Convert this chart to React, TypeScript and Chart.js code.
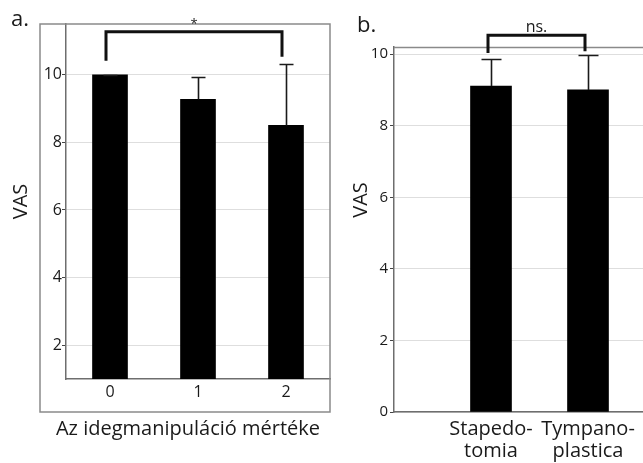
import React, { useEffect, useRef } from 'react';
import { Chart, registerables } from 'chart.js';

Chart.register(...registerables);

const FONT = '"Open Sans", "Noto Sans", sans-serif';

// ---------- Panel a ----------
const panelALetter = 'a.';
const groupsA = ['0', '1', '2'];
const meansA = [10.0, 9.27, 8.5];
const errorsA = [0, 0.66, 1.82];
const yTicksA = [2, 4, 6, 8, 10];
const yRangeA = [1, 11.5];
const xTitleA = 'Az idegmanipuláció mértéke';
const yTitle = 'VAS';
const sigA = { from: 0, to: 2, top: 11.27, leftEnd: 10.41, rightEnd: 10.53, label: '*' };

// ---------- Panel b ----------
const panelBLetter = 'b.';
const groupsB = [['Stapedo-', 'tomia'], ['Tympano-', 'plastica']];
const meansB = [9.11, 9.0];
const errorsB = [0.75, 0.99];
const yTicksB = [0, 2, 4, 6, 8, 10];
const yRangeB = [0, 10.2];
const sigB = { from: 0, to: 1, top: 10.53, leftEnd: 10.03, rightEnd: 10.08, label: 'ns.' };

const TEXT = '#1a1a1a';
const AXIS = '#6e6e6e';
const GRID = '#dedede';

function drawErrorBars(chart: any, means: number[], errors: number[], offset: number, half: number) {
  const { ctx, scales } = chart;
  const meta = chart.getDatasetMeta(0);
  ctx.save();
  ctx.strokeStyle = '#1a1a1a';
  ctx.lineWidth = 1.6;
  means.forEach((m, i) => {
    const el = meta.data[i + offset];
    if (!el) return;
    const px = Math.round(el.x) + 0.5;
    const yb = scales.y.getPixelForValue(m);
    const yt = Math.round(scales.y.getPixelForValue(m + errors[i])) + 0.5;
    ctx.beginPath();
    ctx.moveTo(px, yb);
    ctx.lineTo(px, yt);
    ctx.moveTo(px - half, yt);
    ctx.lineTo(px + half, yt);
    ctx.stroke();
  });
  ctx.restore();
}

function drawBracket(chart: any, sig: any, offset: number, shift: number, font: string, labelDy: number) {
  const { ctx, scales } = chart;
  const meta = chart.getDatasetMeta(0);
  const x1 = meta.data[sig.from + offset].x + shift;
  const x2 = meta.data[sig.to + offset].x + shift;
  const yTop = scales.y.getPixelForValue(sig.top);
  const yL = scales.y.getPixelForValue(sig.leftEnd);
  const yR = scales.y.getPixelForValue(sig.rightEnd);
  ctx.save();
  ctx.strokeStyle = '#111';
  ctx.lineWidth = 3;
  ctx.lineJoin = 'miter';
  ctx.beginPath();
  ctx.moveTo(x1, yL);
  ctx.lineTo(x1, yTop);
  ctx.lineTo(x2, yTop);
  ctx.lineTo(x2, yR);
  ctx.stroke();
  ctx.fillStyle = TEXT;
  ctx.font = font;
  ctx.textAlign = 'center';
  ctx.textBaseline = 'alphabetic';
  ctx.fillText(sig.label, (x1 + x2) / 2, yTop + labelDy);
  ctx.restore();
}

const pluginA = {
  id: 'panelA',
  afterDatasetsDraw(chart: any) {
    drawErrorBars(chart, meansA, errorsA, 0, 7);
  },
  afterDraw(chart: any) {
    const { ctx, chartArea } = chart;
    const boxLeft = chartArea.left - 26;
    const boxBottom = chartArea.bottom + 33;
    ctx.save();
    // outer frame
    ctx.strokeStyle = '#8a8a8a';
    ctx.lineWidth = 1.5;
    ctx.strokeRect(boxLeft, chartArea.top, chartArea.right - boxLeft, boxBottom - chartArea.top);
    // panel letter
    ctx.fillStyle = TEXT;
    ctx.font = `22px ${FONT}`;
    ctx.textAlign = 'left';
    ctx.textBaseline = 'alphabetic';
    ctx.fillText(panelALetter, 11, 26);
    // x-axis title, centred under the frame
    ctx.font = `20px ${FONT}`;
    ctx.textAlign = 'center';
    ctx.textBaseline = 'middle';
    ctx.fillText(xTitleA, (boxLeft + chartArea.right) / 2 + 3, boxBottom + 17);
    ctx.restore();
    drawBracket(chart, sigA, 0, -4, `13px ${FONT}`, -4);
  },
};

const pluginB = {
  id: 'panelB',
  afterDatasetsDraw(chart: any) {
    drawErrorBars(chart, meansB, errorsB, 1, 10);
  },
  afterDraw(chart: any) {
    const { ctx, chartArea } = chart;
    ctx.save();
    // top frame line
    ctx.strokeStyle = '#8a8a8a';
    ctx.lineWidth = 1.5;
    ctx.beginPath();
    ctx.moveTo(chartArea.left, chartArea.top + 0.5);
    ctx.lineTo(chartArea.right, chartArea.top + 0.5);
    ctx.stroke();
    // panel letter
    ctx.fillStyle = TEXT;
    ctx.font = `22px ${FONT}`;
    ctx.textAlign = 'left';
    ctx.textBaseline = 'alphabetic';
    ctx.fillText(panelBLetter, 25, 32);
    // y title
    ctx.font = `20px ${FONT}`;
    ctx.textAlign = 'center';
    ctx.textBaseline = 'middle';
    ctx.translate(29.5, 200);
    ctx.rotate(-Math.PI / 2);
    ctx.fillText(yTitle, 0, 0);
    ctx.restore();
    drawBracket(chart, sigB, 1, -3, `16px ${FONT}`, -3);
  },
};

function PanelA() {
  const ref = useRef<HTMLCanvasElement>(null);
  useEffect(() => {
    const chart = new Chart(ref.current as HTMLCanvasElement, {
      type: 'bar',
      data: {
        labels: groupsA,
        datasets: [{ data: meansA, backgroundColor: '#000', borderWidth: 0, barThickness: 35 }],
      },
      options: {
        animation: false,
        responsive: false,
        devicePixelRatio: 1,
        layout: { padding: { top: 24, left: 0, right: 2, bottom: 0 } },
        plugins: { legend: { display: false }, tooltip: { enabled: false } },
        scales: {
          x: {
            grid: { display: false, drawTicks: false },
            border: { display: true, color: AXIS, width: 1.5 },
            ticks: { color: TEXT, font: { size: 16, family: FONT }, padding: 4, autoSkip: false, maxRotation: 0 },
            afterFit: (s: any) => { s.height = 84; },
          },
          y: {
            min: yRangeA[0],
            max: yRangeA[1],
            afterBuildTicks: (s: any) => { s.ticks = yTicksA.map((v) => ({ value: v })); },
            grid: { color: GRID, lineWidth: 1, tickLength: 4, tickColor: '#444', drawTicks: true },
            border: { display: true, color: AXIS, width: 1.5 },
            ticks: { color: TEXT, font: { size: 16, family: FONT }, padding: 0 },
            title: { display: true, text: yTitle, color: TEXT, font: { size: 20, family: FONT }, padding: { top: 9, bottom: 0 } },
            afterFit: (s: any) => { s.width = 66; },
          },
        },
      },
      plugins: [pluginA],
    } as any);
    return () => chart.destroy();
  }, []);
  return <canvas ref={ref} width={332} height={463} style={{ position: 'absolute', left: 0, top: 0 }} />;
}

function PanelB() {
  const ref = useRef<HTMLCanvasElement>(null);
  useEffect(() => {
    const chart = new Chart(ref.current as HTMLCanvasElement, {
      type: 'bar',
      data: {
        labels: ['', ...groupsB, ''],
        datasets: [{ data: [null, ...meansB, null], backgroundColor: '#000', borderWidth: 0, barThickness: 41 }],
      },
      options: {
        animation: false,
        responsive: false,
        devicePixelRatio: 1,
        layout: { padding: { top: 47, left: 0, right: 27, bottom: 0 } },
        plugins: { legend: { display: false }, tooltip: { enabled: false } },
        scales: {
          x: {
            offset: false,
            grid: { display: false, drawTicks: false },
            border: { display: true, color: AXIS, width: 1.5 },
            ticks: { color: TEXT, font: { size: 20, family: FONT, lineHeight: 1.12 }, padding: 6, autoSkip: false, maxRotation: 0, minRotation: 0 },
            afterFit: (s: any) => { s.height = 51; },
          },
          y: {
            min: yRangeB[0],
            max: yRangeB[1],
            afterBuildTicks: (s: any) => { s.ticks = yTicksB.map((v) => ({ value: v })); },
            grid: { color: GRID, lineWidth: 1, tickLength: 4, tickColor: '#444', drawTicks: true },
            border: { display: true, color: AXIS, width: 1.5 },
            ticks: { color: TEXT, font: { size: 15, family: FONT }, padding: 2 },
            afterFit: (s: any) => { s.width = 62; },
          },
        },
      },
      plugins: [pluginB],
    } as any);
    return () => chart.destroy();
  }, []);
  return <canvas ref={ref} width={380} height={463} style={{ position: 'absolute', left: 332, top: 0 }} />;
}

export default function App() {
  return (
    <div style={{ position: 'fixed', left: 0, top: 0, width: 643, height: 463, overflow: 'hidden', background: '#fff' }}>
      <PanelA />
      <PanelB />
    </div>
  );
}
